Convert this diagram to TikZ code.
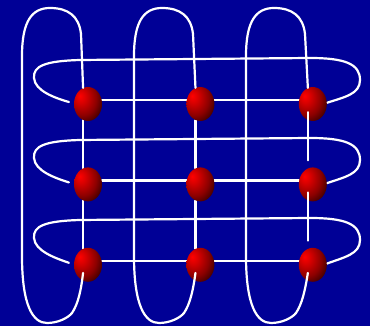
\documentclass[tikz,border=0pt]{standalone}
\usepackage{xcolor}
\usepackage{tikz}
\usetikzlibrary{shapes.geometric,positioning,backgrounds}
\definecolor{bgcolor}{RGB}{0,0,150}
\definecolor{wirecolor}{RGB}{255,255,255}
\pgfdeclareradialshading{redball}{\pgfpoint{-15bp}{12bp}}{color(0bp)=(red); color(9bp)=(red!85!black); color(25bp)=(red!55!black); color(40bp)=(red!15!black); color(50bp)=(black); color(80bp)=(black)}

\begin{document}
\begin{tikzpicture}[
    x=1pt, y=1pt,
    node distance=46pt and 84pt,
    ball/.style={ellipse, shading=redball, minimum width=28pt, minimum height=34pt, inner sep=0pt},
    wire/.style={line width=2.2pt, draw=wirecolor, line join=round, line cap=round}
]
    \useasboundingbox (0,0) rectangle (370,326);

    \node[ball] (b11) at (88,222) {};
    \node[ball, right=of b11] (b12) {};
    \node[ball, right=of b12] (b13) {};
    \node[ball, below=of b11] (b21) {};
    \node[ball, right=of b21] (b22) {};
    \node[ball, right=of b22] (b23) {};
    \node[ball, below=of b21] (b31) {};
    \node[ball, right=of b31] (b32) {};
    \node[ball, right=of b32] (b33) {};

    \begin{scope}[on background layer]
        \fill[bgcolor] (0,0) rectangle (370,326);
        % grid
        \draw[wire] (b11.16) -- (b12.164);
        \draw[wire] (b12.16) -- (b13.164);
        \draw[wire] (b21.16) -- (b22.164);
        \draw[wire] (b22.16) -- (b23.164);
        \draw[wire] (b31.16) -- (b32.164);
        \draw[wire] (b32.16) -- (b33.164);
        \draw[wire] (b11.253) -- (b21.107);
        \draw[wire] (b21.253) -- (b31.107);
        \draw[wire] (b12.253) -- (b22.107);
        \draw[wire] (b22.253) -- (b32.107);
        % row loops
        \draw[wire] (b13.5) .. controls (345,229) and (360,232) .. (360,246) .. controls (360,262) and (345,268) .. (310,268) -- (80,266) .. controls (45,265) and (33,260) .. (34,248) .. controls (35,235) and (55,228) .. ([xshift=-5pt]b11.172);
        \draw[wire, yshift=-80pt] (b23.5) .. controls (345,229) and (360,232) .. (360,246) .. controls (360,262) and (345,268) .. (310,268) -- (80,266) .. controls (45,265) and (33,260) .. (34,248) .. controls (35,235) and (55,228) .. ([xshift=-5pt]b21.172);
        \draw[wire, yshift=-160pt] (b33.5) .. controls (345,229) and (360,232) .. (360,246) .. controls (360,262) and (345,268) .. (310,268) -- (80,266) .. controls (45,265) and (33,260) .. (34,248) .. controls (35,235) and (55,228) .. ([xshift=-5pt]b31.172);
    \end{scope}

    % column loops
    \draw[wire] (b11.107) -- (81,292) .. controls (79,310) and (68,318) .. (50,318) .. controls (32,318) and (22,305) .. (22,270) -- (22,70) .. controls (22,20) and (33,3) .. (47,3) .. controls (58,3) and (68,8) .. (72,13) .. controls (78,22) and (81,35) .. ([yshift=8pt]b31.253);
    \draw[wire, xshift=112pt] (b12.107) -- (81,292) .. controls (79,310) and (68,318) .. (50,318) .. controls (32,318) and (22,305) .. (22,270) -- (22,70) .. controls (22,20) and (33,3) .. (47,3) .. controls (58,3) and (68,8) .. (72,13) .. controls (78,22) and (81,35) .. ([yshift=8pt]b32.253);
    \draw[wire, xshift=224pt] (b13.107) -- (81,292) .. controls (79,310) and (68,318) .. (50,318) .. controls (32,318) and (22,305) .. (22,270) -- (22,70) .. controls (22,20) and (33,3) .. (47,3) .. controls (58,3) and (68,8) .. (72,13) .. controls (78,22) and (81,35) .. ([yshift=8pt]b33.253);
    \draw[wire] ([yshift=8pt]b13.253) -- ([yshift=8pt]b23.107);
    \draw[wire] ([yshift=8pt]b23.253) -- ([yshift=8pt]b33.107);
\end{tikzpicture}
\end{document}
